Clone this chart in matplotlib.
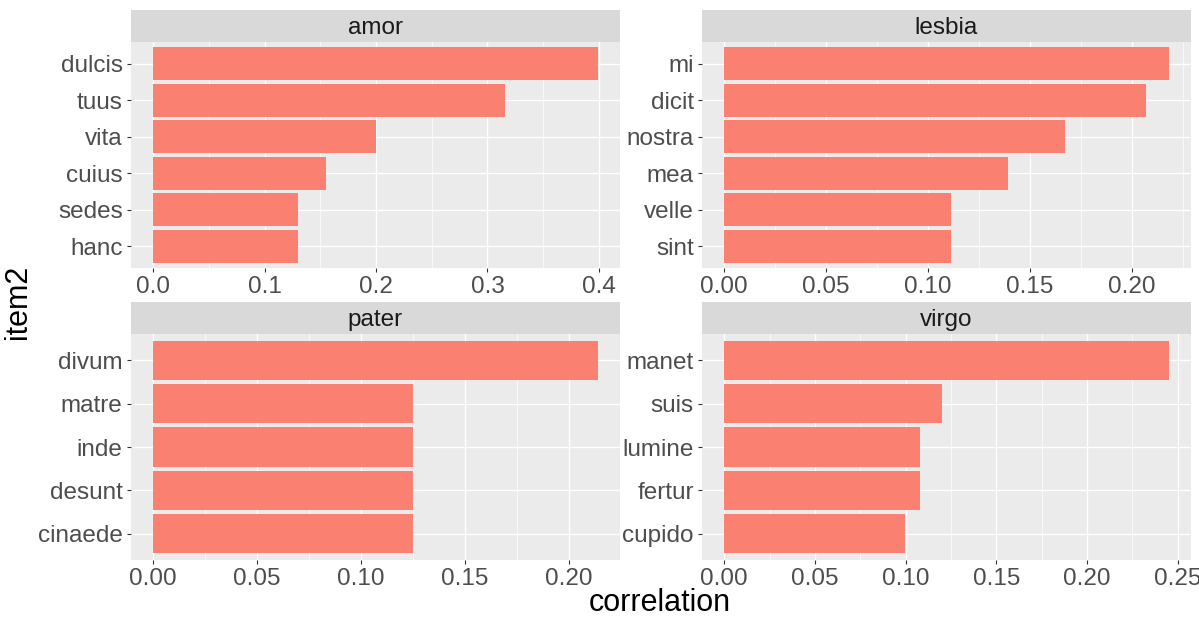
import matplotlib
matplotlib.use("Agg")
import matplotlib.pyplot as plt
import numpy as np

plt.rcParams['font.family'] = ['Liberation Sans', 'DejaVu Sans']

# data, top-to-bottom order within each facet
facets = ["amor", "lesbia", "pater", "virgo"]
amor_words = ["dulcis", "tuus", "vita", "cuius", "sedes", "hanc"]
amor_corr = [0.399, 0.316, 0.200, 0.155, 0.130, 0.130]
lesbia_words = ["mi", "dicit", "nostra", "mea", "velle", "sint"]
lesbia_corr = [0.218, 0.207, 0.167, 0.139, 0.111, 0.111]
pater_words = ["divum", "matre", "inde", "desunt", "cinaede"]
pater_corr = [0.214, 0.125, 0.125, 0.125, 0.125]
virgo_words = ["manet", "suis", "lumine", "fertur", "cupido"]
virgo_corr = [0.245, 0.120, 0.108, 0.108, 0.0995]

amor_ticks = [0.0, 0.1, 0.2, 0.3, 0.4]
amor_ticklabels = ["0.0", "0.1", "0.2", "0.3", "0.4"]
small_ticks = [0.0, 0.05, 0.10, 0.15, 0.20, 0.25]
small_ticklabels = ["0.00", "0.05", "0.10", "0.15", "0.20", "0.25"]

panels = [
    (amor_words, amor_corr, amor_ticks, amor_ticklabels),
    (lesbia_words, lesbia_corr, small_ticks, small_ticklabels),
    (pater_words, pater_corr, small_ticks, small_ticklabels),
    (virgo_words, virgo_corr, small_ticks, small_ticklabels),
]

W, H = 1199, 618
fig = plt.figure(figsize=(W / 100, H / 100), dpi=100)

# pixel boxes (left, top, right, bottom) for each panel and its strip
lefts = [131, 702, 131, 702]
rights = [620, 1191, 620, 1191]
strip_tops = [10, 10, 302, 302]
panel_tops = [42, 42, 334, 334]
panel_bottoms = [268, 268, 560, 560]

bar_color = "#FA8072"
tick_col = "#4D4D4D"

for i, (words, corr, ticks, ticklabels) in enumerate(panels):
    l, r = lefts[i], rights[i]
    t, b = panel_tops[i], panel_bottoms[i]
    ax = fig.add_axes([l / W, 1 - b / H, (r - l) / W, (b - t) / H])
    n = len(words)
    y = np.arange(n)[::-1] + 1
    ax.set_facecolor("#EBEBEB")
    ax.barh(y, corr, height=0.9, color=bar_color, zorder=3)

    xmax = max(corr)
    pad = xmax * 0.05
    ax.set_xlim(-pad, xmax + pad)
    ax.set_ylim(0.4, n + 0.6)

    major = [v for v in ticks if -pad <= v <= xmax + pad]
    step = ticks[1] - ticks[0]
    minor = [v + step / 2 for v in ticks if -pad <= v + step / 2 <= xmax + pad]
    ax.set_xticks(major)
    ax.set_xticklabels([lab for v, lab in zip(ticks, ticklabels) if v in major])
    ax.set_xticks(minor, minor=True)
    ax.set_yticks(y)
    ax.set_yticklabels(words)

    ax.grid(True, which="major", color="white", linewidth=1.0, zorder=0)
    ax.grid(True, which="minor", axis="x", color="white", linewidth=0.5, zorder=0)
    ax.set_axisbelow(True)
    for s in ax.spines.values():
        s.set_visible(False)
    ax.tick_params(which="major", length=3, width=0.8, color="#333333",
                   labelsize=17.5, labelcolor=tick_col, pad=3)
    ax.tick_params(which="minor", length=0)

    # facet strip
    st = strip_tops[i]
    sax = fig.add_axes([l / W, 1 - t / H, (r - l) / W, (t - st) / H])
    sax.set_facecolor("#D9D9D9")
    sax.set_xticks([])
    sax.set_yticks([])
    for s in sax.spines.values():
        s.set_visible(False)
    sax.text(0.5, 0.45, facets[i], ha="center", va="center",
             fontsize=17.5, color="#1A1A1A", transform=sax.transAxes)

fig.text(18 / W, 1 - 302 / H, "item2", rotation=90, ha="center", va="center",
         fontsize=22, color="black")
fig.text(660 / W, 1 - 603 / H, "correlation", ha="center", va="center",
         fontsize=22, color="black")

fig.savefig("out.png", dpi=100, facecolor="white")
